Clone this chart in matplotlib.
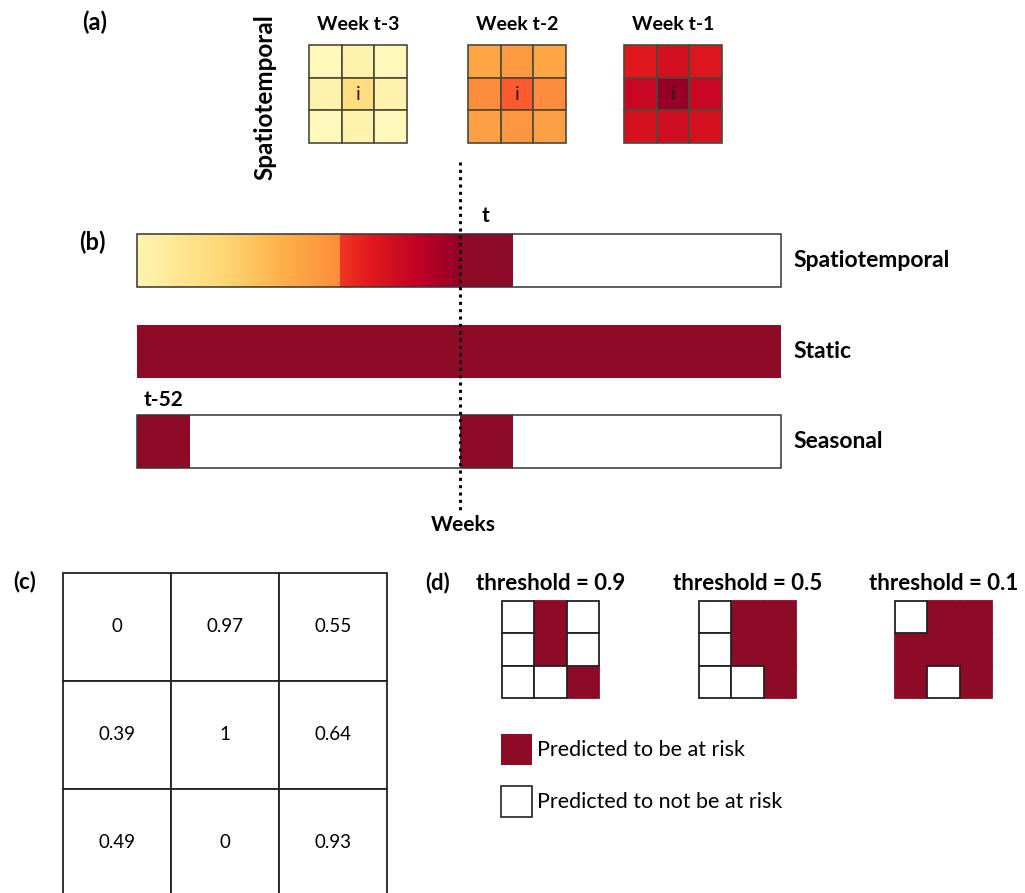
import numpy as np
import matplotlib.pyplot as plt
from matplotlib.patches import Rectangle
from matplotlib import colormaps

plt.rcParams['font.family'] = ['Lato', 'DejaVu Sans']

# ---- data -------------------------------------------------------------
week_labels = ["Week t-3", "Week t-2", "Week t-1"]
week_t3 = [[0.05, 0.09, 0.05], [0.09, 0.22, 0.09], [0.05, 0.09, 0.05]]
week_t2 = [[0.42, 0.46, 0.42], [0.50, 0.60, 0.50], [0.44, 0.47, 0.44]]
week_t1 = [[0.76, 0.80, 0.77], [0.84, 0.95, 0.84], [0.79, 0.82, 0.79]]
week_grids = [week_t3, week_t2, week_t1]

feature_labels = ["Spatiotemporal", "Static", "Seasonal"]
ramp_early = [0.08, 0.50]     # colour span for the older weeks
ramp_late = [0.68, 0.96]      # colour span for the recent weeks
seasonal_lags = [52, 0]

risk_scores = [[0, 0.97, 0.55],
               [0.39, 1, 0.64],
               [0.49, 0, 0.93]]
thresholds = [0.9, 0.5, 0.1]
legend_labels = ["Predicted to be at risk", "Predicted to not be at risk"]

# ---- styling ----------------------------------------------------------
cmap = colormaps['YlOrRd']
RISK = '#8E0B28'
EDGE = '#222222'

fig = plt.figure(figsize=(10.25, 8.93), dpi=100)
ax = fig.add_axes([0, 0, 1, 1])
ax.set_xlim(0, 1025)
ax.set_ylim(893, 0)
ax.axis('off')


def grid3(x0, y0, size, facecolors, lw=1.3, edge=EDGE):
    c = size / 3
    for r in range(3):
        for k in range(3):
            ax.add_patch(Rectangle((x0 + k * c, y0 + r * c), c, c,
                                   facecolor=facecolors[r][k],
                                   edgecolor=edge, lw=lw, zorder=2))


# ---- (a) spatiotemporal neighbourhood ---------------------------------
ax.text(95, 22, '(a)', fontsize=17, fontweight='bold', ha='center', va='center')
ax.text(265, 97, 'Spatiotemporal', fontsize=17.5, fontweight='bold',
        rotation=90, ha='center', va='center')
week_x = [309, 468, 624]
for lab, vals, gx in zip(week_labels, week_grids, week_x):
    cols = [[cmap(v) for v in row] for row in vals]
    grid3(gx, 45, 98, cols, lw=1.2, edge='#4a4a3a')
    ax.text(gx + 49, 24, lab, fontsize=14, fontweight='bold',
            ha='center', va='center')
    ax.text(gx + 49, 94, 'i', fontsize=14, ha='center', va='center',
            color='#2a1a10', zorder=3)

# ---- (b) feature time windows -----------------------------------------
ax.text(92, 242, '(b)', fontsize=17, fontweight='bold', ha='center', va='center')
bar_left, bar_right = 137, 781
week_w = 53
x_t = 460
split = 340
bar_h = 53
rows_y = [234, 325, 415]

# spatiotemporal bar
y0 = rows_y[0]
early = np.linspace(ramp_early[0], ramp_early[1], 256)[None, :]
late = np.linspace(ramp_late[0], ramp_late[1], 256)[None, :]
ax.imshow(early, cmap=cmap, vmin=0, vmax=1, aspect='auto',
          extent=(bar_left, split, y0 + bar_h, y0), zorder=1)
ax.imshow(late, cmap=cmap, vmin=0, vmax=1, aspect='auto',
          extent=(split, x_t, y0 + bar_h, y0), zorder=1)
ax.add_patch(Rectangle((x_t, y0), week_w, bar_h, facecolor=RISK, lw=0, zorder=1))
ax.add_patch(Rectangle((bar_left, y0), bar_right - bar_left, bar_h,
                       facecolor='none', edgecolor='#333333', lw=1.1, zorder=3))
ax.text(x_t + 25, 216, 't', fontsize=15, fontweight='bold', ha='center', va='center')

# static bar
y1 = rows_y[1]
ax.add_patch(Rectangle((bar_left, y1), bar_right - bar_left, bar_h,
                       facecolor=RISK, edgecolor='none', zorder=1))

# seasonal bar
y2 = rows_y[2]
for lag in seasonal_lags:
    bx = x_t if lag == 0 else bar_left
    ax.add_patch(Rectangle((bx, y2), week_w, bar_h, facecolor=RISK, lw=0, zorder=1))
ax.add_patch(Rectangle((bar_left, y2), bar_right - bar_left, bar_h,
                       facecolor='none', edgecolor='#333333', lw=1.1, zorder=3))
ax.text(bar_left + 27, 400, 't-%d' % seasonal_lags[0], fontsize=15,
        fontweight='bold', ha='center', va='center')

for lab, yy in zip(feature_labels, rows_y):
    ax.text(793, yy + bar_h / 2, lab, fontsize=16.5, fontweight='bold',
            ha='left', va='center')

ax.plot([x_t, x_t], [162, 510], color='black', lw=2.2,
        linestyle=(0, (1, 1.4)), zorder=4)
ax.text(x_t + 3, 525, 'Weeks', fontsize=15, fontweight='bold',
        ha='center', va='center')

# ---- (c) predicted risk scores ----------------------------------------
ax.text(25, 582, '(c)', fontsize=16, fontweight='bold', ha='center', va='center')
cx0, cy0, cs = 63, 573, 108
grid3(cx0, cy0, cs * 3, [['white'] * 3] * 3, lw=1.3)
for r in range(3):
    for k in range(3):
        v = risk_scores[r][k]
        ax.text(cx0 + (k + 0.5) * cs, cy0 + (r + 0.5) * cs, f'{v:g}',
                fontsize=13.5, ha='center', va='center', zorder=3)

# ---- (d) thresholded risk maps ----------------------------------------
ax.text(438, 583, '(d)', fontsize=16, fontweight='bold', ha='center', va='center')
grid_x = [502, 699, 895]
gs = 97
for th, gx in zip(thresholds, grid_x):
    c = gs / 3
    for r in range(3):
        for k in range(3):
            at_risk = risk_scores[r][k] >= th
            ax.add_patch(Rectangle((gx + k * c, 601 + r * c), c, c,
                                   facecolor=RISK if at_risk else 'white',
                                   edgecolor=RISK if at_risk else EDGE,
                                   lw=1.3, zorder=3 if not at_risk else 2))
    ax.text(gx + gs / 2, 583, f'threshold = {th}', fontsize=16, fontweight='bold',
            ha='center', va='center')

# legend
for lab, fc, ly in zip(legend_labels, [RISK, 'white'], [734, 786]):
    ax.add_patch(Rectangle((501, ly), 31, 31, facecolor=fc,
                           edgecolor=EDGE if fc == 'white' else 'none', lw=1.2))
    ax.text(537, ly + 16, lab, fontsize=15.5, ha='left', va='center')

fig.savefig('out.png', dpi=100)
